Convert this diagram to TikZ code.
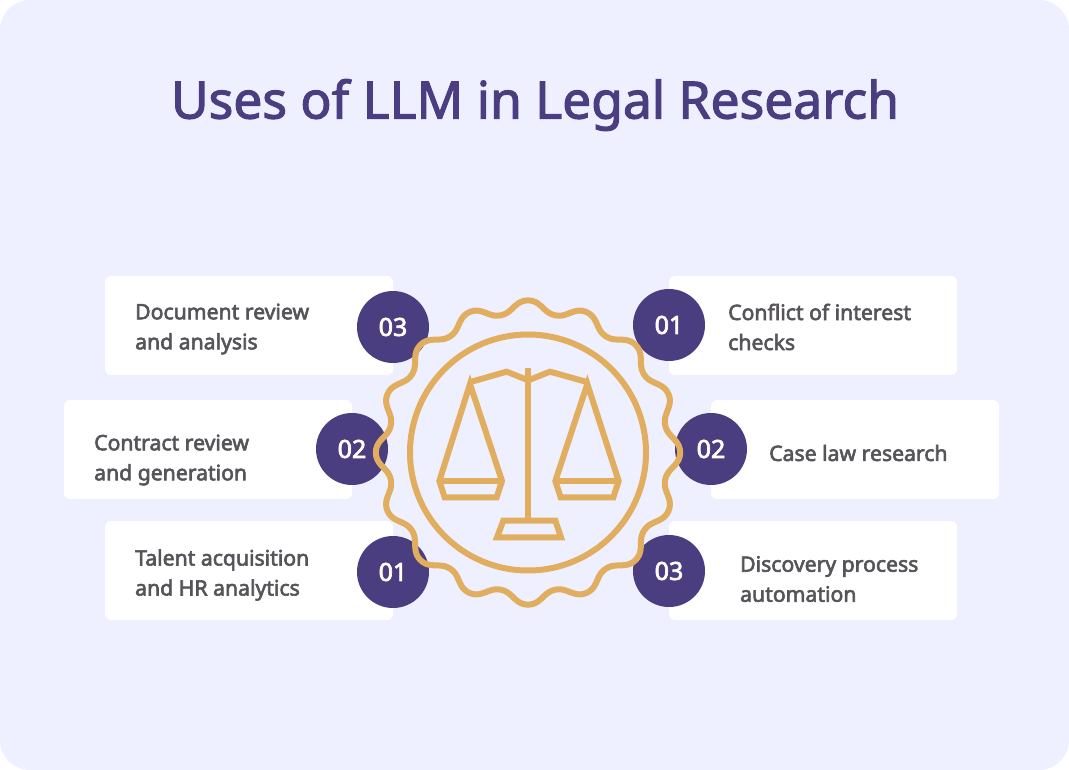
\documentclass[tikz,border=0pt]{standalone}
\usepackage{fontspec}
\setmainfont{Noto Sans}
\newfontfamily\titlefont{Noto Sans}[FakeBold=2.2]
\newfontfamily\labelfont{Noto Sans}[FakeBold=2.8]
\usetikzlibrary{calc}
\definecolor{pagebg}{HTML}{EEF0FF}
\definecolor{darkpurple}{HTML}{4A3D80}
\definecolor{scalegold}{HTML}{E0AE5E}
\definecolor{labelgray}{HTML}{565459}
\tikzset{
    itembox/.style={fill=white, rounded corners=6pt, minimum width=288pt, minimum height=99pt, inner sep=0pt},
    itemnum/.style={circle, fill=darkpurple, text=white, minimum size=72pt, inner sep=0pt, font=\labelfont\fontsize{25}{25}\selectfont},
    itemtext/.style={anchor=west, align=left, inner sep=0pt, text=labelgray, font=\labelfont\fontsize{21.2}{30}\selectfont},
    goldline/.style={draw=scalegold, line width=6pt, line join=miter}
}
\begin{document}
\begin{tikzpicture}[x=1pt, y=-1pt]
\useasboundingbox (0,0) rectangle (1069,770);

% Background
\fill[white] (0,0) rectangle (1069,770);
\node[fill=pagebg, rounded corners=30pt, minimum width=1069pt, minimum height=770pt, inner sep=0pt] (pagebox) at (534.5,385) {};
\node[text=darkpurple, font=\titlefont\fontsize{51.5}{51.5}\selectfont] (titletext) at (535,105) {Uses of LLM in Legal Research};

% Left boxes
\node[itembox] (docbox) at (249,325.5) {};
\node[itembox] (conbox) at (208,449.5) {};
\node[itembox] (talbox) at (249,570.5) {};
\node[itemtext] (doctext) at (135,329) {Document review\\and analysis};
\node[itemtext] (context) at (94,460) {Contract review\\and generation};
\node[itemtext] (taltext) at (135,575) {Talent acquisition\\and HR analytics};

% Right boxes
\node[itembox] (cflbox) at (813,325.5) {};
\node[itembox] (casbox) at (855,449.5) {};
\node[itembox] (disbox) at (813,570.5) {};
\node[itemtext] (cfltext) at (728,327) {Conflict of interest\\checks};
\node[itemtext] (castext) at (769,453) {Case law research};
\node[itemtext] (distext) at (740,579) {Discovery process\\automation};

% Numbers
\node[itemnum] (docnum) at (393,327) {03};
\node[itemnum] (connum) at (352,449) {02};
\node[itemnum] (talnum) at (393,572) {01};
\node[itemnum] (cflnum) at (669,325) {01};
\node[itemnum] (casnum) at (711,449) {02};
\node[itemnum] (disnum) at (669,571) {03};

% Seal
\coordinate (sealcenter) at (528,452.5);
\draw[goldline] (sealcenter) circle (118);
\draw[goldline, smooth, samples=289, domain=0:360, shift={(sealcenter)}]
    plot (\x:{146+6.4*(cos(16*\x)-0.04*cos(3*mod(16*\x,360)))}) -- cycle;

% Scales
\begin{scope}[shift={(360,280)}, scale=1/3]
\draw[goldline] (505,265) -- (505,722);
\draw[goldline] (328,307) -- (440,275) -- (505,301) -- (570,275) -- (684,307);
\draw[goldline] (430,722) -- (586,722) -- (603,772) -- (411,772) -- cycle;
% left pan
\draw[goldline] (330,312) -- (238,603) -- (254,652) -- (410,652) -- (426,603) -- cycle;
\draw[goldline] (238,603) -- (426,603);
% right pan
\draw[goldline] (682,312) -- (586,603) -- (602,652) -- (760,652) -- (776,603) -- cycle;
\draw[goldline] (586,603) -- (776,603);
\end{scope}
\end{tikzpicture}
\end{document}
